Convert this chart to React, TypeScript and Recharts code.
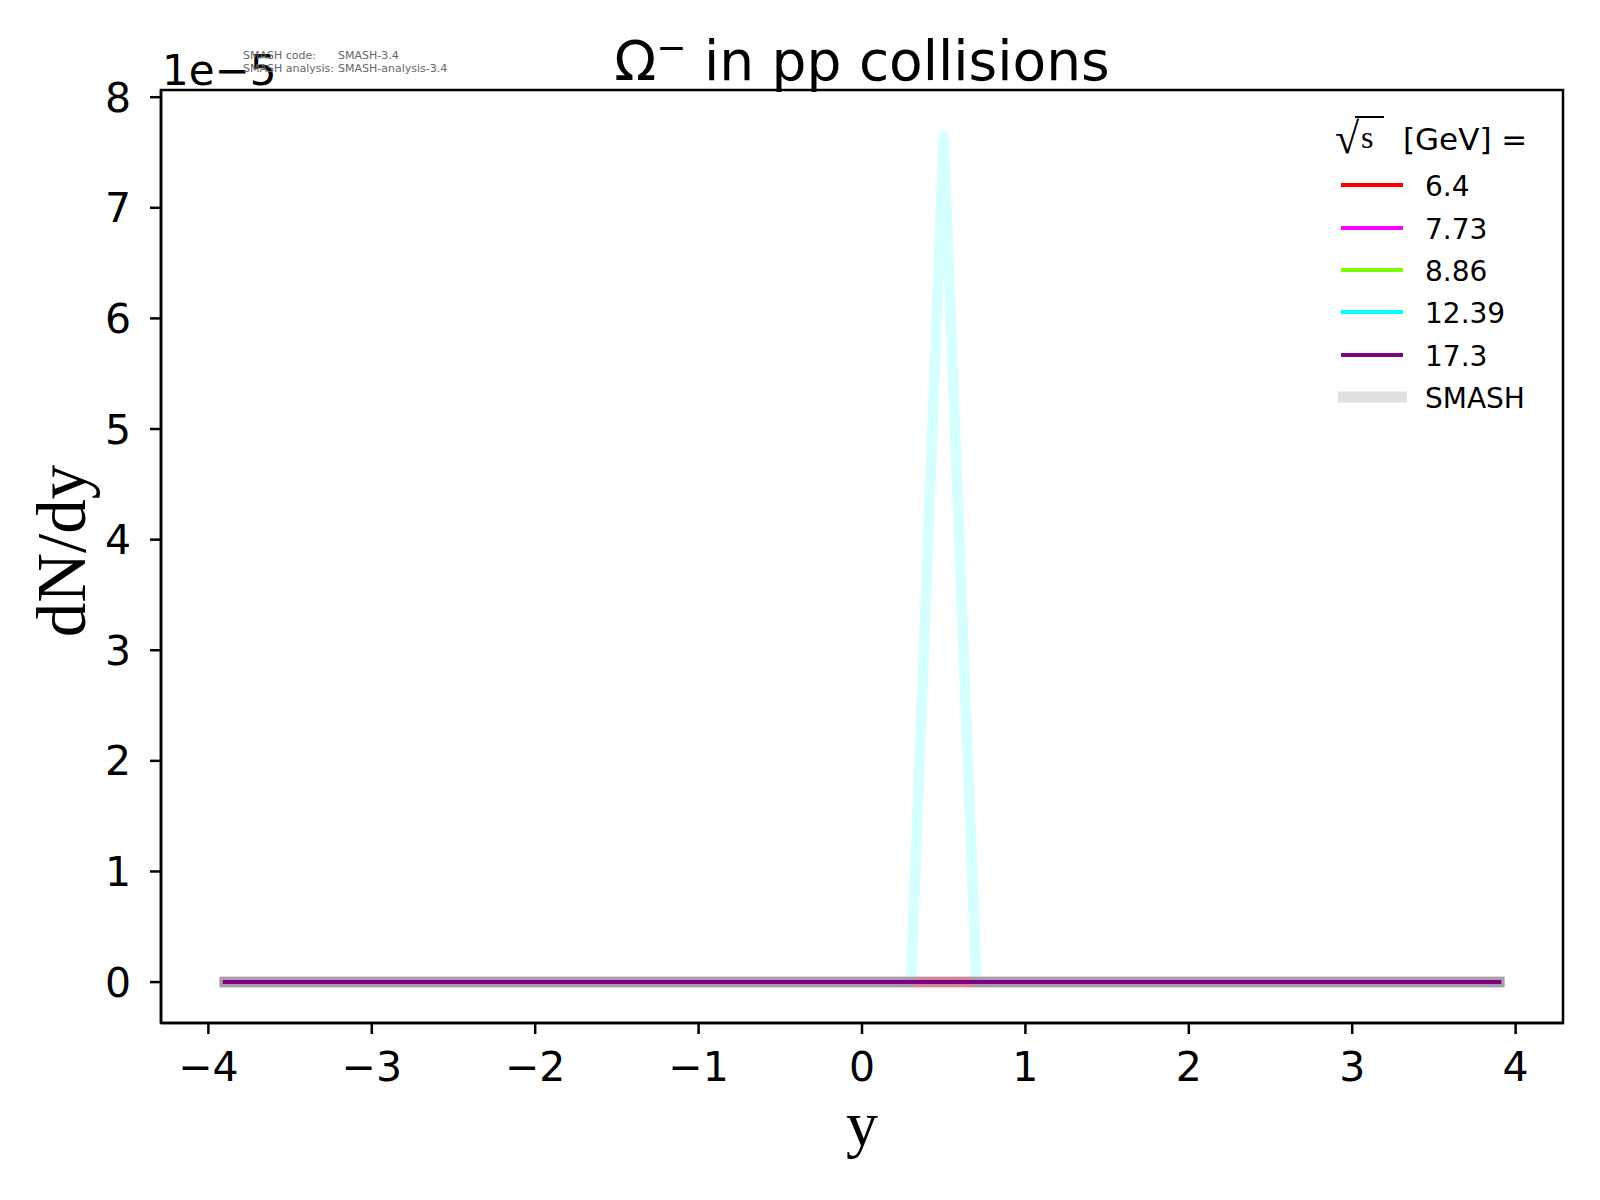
import React from 'react';
import { LineChart, Line, XAxis, YAxis, ReferenceArea, Legend } from 'recharts';

// rapidity bin centres
const rapidity = [
  -3.9, -3.7, -3.5, -3.3, -3.1, -2.9, -2.7, -2.5, -2.3, -2.1,
  -1.9, -1.7, -1.5, -1.3, -1.1, -0.9, -0.7, -0.5, -0.3, -0.1,
  0.1, 0.3, 0.5, 0.7, 0.9, 1.1, 1.3, 1.5, 1.7, 1.9,
  2.1, 2.3, 2.5, 2.7, 2.9, 3.1, 3.3, 3.5, 3.7, 3.9,
];

// SMASH dN/dy in units of 1e-5
const smash_6_4 = [
  0, 0, 0, 0, 0, 0, 0, 0, 0, 0,
  0, 0, 0, 0, 0, 0, 0, 0, 0, 0,
  0, 0, 0, 0, 0, 0, 0, 0, 0, 0,
  0, 0, 0, 0, 0, 0, 0, 0, 0, 0,
];
const smash_7_73 = [
  0, 0, 0, 0, 0, 0, 0, 0, 0, 0,
  0, 0, 0, 0, 0, 0, 0, 0, 0, 0,
  0, 0, 0, 0, 0, 0, 0, 0, 0, 0,
  0, 0, 0, 0, 0, 0, 0, 0, 0, 0,
];
const smash_8_86 = [
  0, 0, 0, 0, 0, 0, 0, 0, 0, 0,
  0, 0, 0, 0, 0, 0, 0, 0, 0, 0,
  0, 0, 0, 0, 0, 0, 0, 0, 0, 0,
  0, 0, 0, 0, 0, 0, 0, 0, 0, 0,
];
const smash_12_39 = [
  0, 0, 0, 0, 0, 0, 0, 0, 0, 0,
  0, 0, 0, 0, 0, 0, 0, 0, 0, 0,
  0, 0, 7.65, 0, 0, 0, 0, 0, 0, 0,
  0, 0, 0, 0, 0, 0, 0, 0, 0, 0,
];
const smash_17_3 = [
  0, 0, 0, 0, 0, 0, 0, 0, 0, 0,
  0, 0, 0, 0, 0, 0, 0, 0, 0, 0,
  0, 0, 0, 0, 0, 0, 0, 0, 0, 0,
  0, 0, 0, 0, 0, 0, 0, 0, 0, 0,
];
// measured points, 17.3 GeV
const data_17_3 = [
  0, 0, 0, 0, 0, 0, 0, 0, 0, 0,
  0, 0, 0, 0, 0, 0, 0, 0, 0, 0,
  0, 0, 0, 0, 0, 0, 0, 0, 0, 0,
  0, 0, 0, 0, 0, 0, 0, 0, 0, 0,
];

const energies = ['6.4', '7.73', '8.86', '12.39', '17.3'];
const energyColors = ['#ff0000', '#ff00ff', '#7cfc00', '#00ffff', '#800080'];

const xTicks = [-4, -3, -2, -1, 0, 1, 2, 3, 4];
const yTicks = [0, 1, 2, 3, 4, 5, 6, 7, 8];

const rows = rapidity.map((y, i) => ({
  y,
  s64: smash_6_4[i],
  s773: smash_7_73[i],
  s886: smash_8_86[i],
  s1239: smash_12_39[i],
  s173: smash_17_3[i],
  d173: data_17_3[i],
}));

const sans = 'DejaVu Sans';
const serif = 'Liberation Serif';
const fmtX = (v: number) => (v < 0 ? '\u2212' + Math.abs(v) : String(v));

const LegendBox = () => {
  const ox = 1300;
  const oy = 100;
  const rowsY = [185, 228, 270, 312, 355];
  return (
    <svg width={270} height={320} style={{ overflow: 'visible' }}>
      <g transform={`translate(${-ox},${-oy})`}>
        <text x={1335} y={153} fontFamily={serif} fontSize={44}>√</text>
        <line x1={1355} x2={1384} y1={117} y2={117} stroke="#000" strokeWidth={2} />
        <text x={1361} y={148} fontFamily={serif} fontSize={32}>s</text>
        <text x={1403} y={150} fontFamily={sans} fontSize={31}>[GeV] =</text>
        {energies.map((e, i) => (
          <g key={e}>
            <line x1={1341} x2={1403} y1={rowsY[i]} y2={rowsY[i]} stroke={energyColors[i]} strokeWidth={4} />
            <text x={1425} y={rowsY[i] + 11} fontFamily={sans} fontSize={28}>{e}</text>
          </g>
        ))}
        <line x1={1338} x2={1407} y1={397} y2={397} stroke="#e0e0e0" strokeWidth={11} />
        <text x={1425} y={408} fontFamily={sans} fontSize={28}>SMASH</text>
      </g>
    </svg>
  );
};

const band = {
  type: 'linear' as const,
  dot: false,
  strokeWidth: 10.5,
  strokeLinecap: 'square' as const,
  strokeLinejoin: 'round' as const,
  isAnimationActive: false,
  legendType: 'none' as const,
};

export default function App() {
  return (
    <div style={{ position: 'absolute', left: 0, top: 0, width: 1600, height: 1200, background: '#fff' }}>
      <LineChart width={1600} height={1200} data={rows} margin={{ top: 90, right: 37, bottom: 117, left: 81 }}>
        <XAxis
          dataKey="y"
          type="number"
          domain={[-4.29, 4.29]}
          allowDataOverflow
          ticks={xTicks}
          tickFormatter={fmtX}
          height={60}
          stroke="#000"
          strokeWidth={2.5}
          tickSize={11}
          tickMargin={18}
          tick={{ fill: '#000', fontSize: 41, fontFamily: sans }}
        />
        <YAxis
          type="number"
          domain={[-0.37, 8.065]}
          allowDataOverflow
          ticks={yTicks}
          width={80}
          stroke="#000"
          strokeWidth={2.5}
          tickSize={11}
          tickMargin={19}
          tick={{ fill: '#000', fontSize: 41, fontFamily: sans }}
        />
        <ReferenceArea x1={-4.29} x2={4.29} y1={-0.37} y2={8.065} fill="none" stroke="#000" strokeWidth={2.5} />
        <Line {...band} dataKey="s64" stroke={energyColors[0]} strokeOpacity={0.22} />
        <Line {...band} dataKey="s773" stroke={energyColors[1]} strokeOpacity={0.22} />
        <Line {...band} dataKey="s886" stroke={energyColors[2]} strokeOpacity={0.22} />
        <Line {...band} dataKey="s173" stroke={energyColors[4]} strokeOpacity={0.22} />
        <Line {...band} dataKey="s1239" stroke={energyColors[3]} strokeOpacity={0.16} />
        <Line
          type="linear"
          dataKey="d173"
          stroke={energyColors[4]}
          strokeWidth={4}
          strokeLinecap="square"
          dot={false}
          isAnimationActive={false}
          legendType="none"
        />
        <Legend
          layout="horizontal"
          align="center"
          verticalAlign="middle"
          content={() => <LegendBox />}
          wrapperStyle={{ position: 'absolute', left: 1300, top: 100, width: 270, height: 320 }}
        />
      </LineChart>
      <svg width={1600} height={1200} style={{ position: 'absolute', left: 0, top: 0, pointerEvents: 'none' }}>
        <text x={862} y={80} textAnchor="middle" fontFamily={sans} fontSize={55}>
          Ω<tspan fontSize={36} dy={-20}>−</tspan>
          <tspan dy={20}> in pp collisions</tspan>
        </text>
        <text x={162} y={85} fontFamily={sans} fontSize={42}>1e−5</text>
        <text x={243} y={59} fontFamily={sans} fontSize={11} fill="#666">SMASH code:</text>
        <text x={338} y={59} fontFamily={sans} fontSize={11} fill="#666">SMASH-3.4</text>
        <text x={243} y={72} fontFamily={sans} fontSize={11} fill="#666">SMASH analysis:</text>
        <text x={338} y={72} fontFamily={sans} fontSize={11} fill="#666">SMASH-analysis-3.4</text>
        <text x={862} y={1145} textAnchor="middle" fontFamily={serif} fontSize={64}>y</text>
        <text x={85} y={551} textAnchor="middle" fontFamily={serif} fontSize={69} transform="rotate(-90, 85, 551)">
          dN/dy
        </text>
      </svg>
    </div>
  );
}
